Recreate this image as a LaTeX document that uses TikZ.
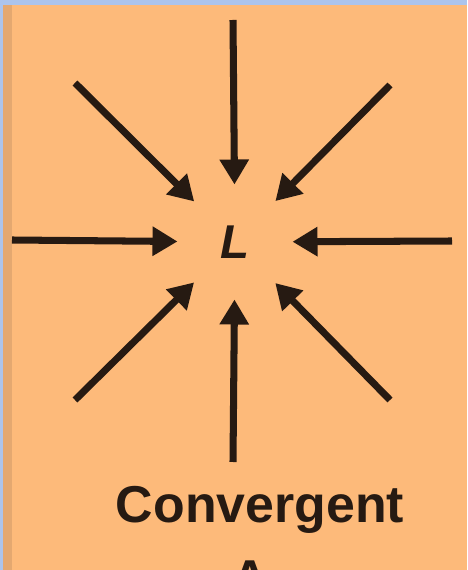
\documentclass[tikz,border=0pt]{standalone}
\usepackage{fontspec}
\setmainfont{Liberation Sans}
\usetikzlibrary{arrows.meta}
\definecolor{sheet}{RGB}{253,186,122}
\definecolor{rim}{RGB}{228,168,112}
\definecolor{frame}{RGB}{172,196,236}
\definecolor{ink}{RGB}{38,26,18}

\begin{document}
\begin{tikzpicture}[>={Triangle[length=0.5cm, width=0.56cm]},
    inflow/.style={->, line width=4pt, draw=ink, fill=ink}]
    \useasboundingbox (0,0) rectangle (9.34,11.4);
    \clip (0,0) rectangle (9.34,11.4);
    % backdrop
    \fill[frame] (0,0) rectangle (9.34,11.4);
    \fill[sheet] (0.06,0) rectangle (9.34,11.3);
    \fill[rim] (0.06,0) rectangle (0.24,11.3);

    \node[circle, minimum size=2.3cm, inner sep=0, outer sep=0, text=ink,
        font=\bfseries\itshape\fontsize{27}{27}\selectfont] (low) at (4.70,6.56) {L};

    \coordinate (n) at (4.66,11.00);
    \coordinate (ne) at (7.80,9.70);
    \coordinate (e) at (9.04,6.58);
    \coordinate (se) at (7.80,3.40);
    \coordinate (s) at (4.66,2.16);
    \coordinate (sw) at (1.50,3.40);
    \coordinate (w) at (0.24,6.60);
    \coordinate (nw) at (1.50,9.74);

    \draw[inflow] (n) -- (low);
    \draw[inflow] (ne) -- (low);
    \draw[inflow] (e) -- (low);
    \draw[inflow] (se) -- (low);
    \draw[inflow] (s) -- (low);
    \draw[inflow] (sw) -- (low);
    \draw[inflow] (w) -- (low);
    \draw[inflow] (nw) -- (low);

    \node[anchor=base, text=ink, font=\bfseries\fontsize{29.5}{29.5}\selectfont] (kind) at (5.20,0.94) {Convergent};
    \node[anchor=base, text=ink, font=\bfseries\fontsize{29.5}{29.5}\selectfont] (next) at (5.00,-0.54) {A};
\end{tikzpicture}
\end{document}
